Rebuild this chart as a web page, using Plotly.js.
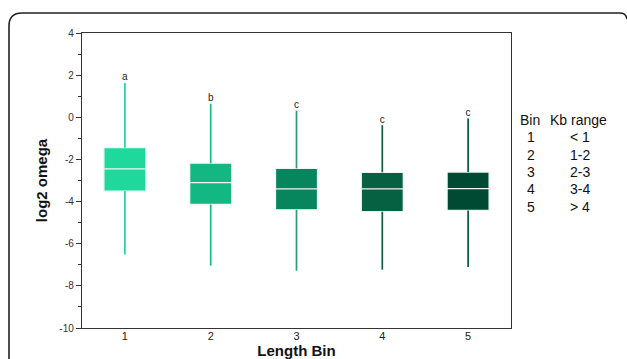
<!DOCTYPE html>
<html>
<head>
<meta charset="utf-8">
<script src="https://cdn.plot.ly/plotly-3.0.1.min.js"></script>
<style>html,body{margin:0;padding:0;background:#fff;}#chart{width:627px;height:359px;}</style>
</head>
<body>
<div id="chart"></div>
<script>
// ---- data ----
var bins = [1, 2, 3, 4, 5];
var upperFence = [1.63, 0.64, 0.31, -0.37, -0.06];
var q3Values = [-1.44, -2.18, -2.42, -2.61, -2.60];
var medians = [-2.45, -3.10, -3.40, -3.40, -3.39];
var q1Values = [-3.50, -4.14, -4.39, -4.48, -4.42];
var lowerFence = [-6.51, -7.04, -7.28, -7.23, -7.10];
var groupLetters = ['a', 'b', 'c', 'c', 'c'];
var binColors = ['#1fd89c', '#13b781', '#07865d', '#056142', '#004a33'];
var whiskerColors = ['#1fd89c', '#14bd85', '#2e9c73', '#066444', '#005c3c'];
var yTickVals = [-10, -8, -6, -4, -2, 0, 2, 4];
var yTickText = ['-10', '-8', '-6', '-4', '-2', '0', '2', '4'];
var yMinorVals = [-9, -7, -5, -3, -1, 1, 3];
var xTickVals = [1, 2, 3, 4, 5];
var xTickText = ['1', '2', '3', '4', '5'];
var tableHeader = ['Bin', 'Kb range'];
var tableBins = ['1', '2', '3', '4', '5'];
var tableRanges = ['< 1', '1-2', '2-3', '3-4', '> 4'];

// ---- layout geometry ----
var W = 627, H = 359;
var M = {l: 82, r: 116, t: 33, b: 31};
var PW = W - M.l - M.r, PH = H - M.t - M.b;
function px(x) { return (x - M.l) / PW; }
function py(y) { return (H - M.b - y) / PH; }

var traces = [];
bins.forEach(function (b, i) {
  traces.push({
    type: 'box',
    x: [b],
    q1: [q1Values[i]],
    median: [medians[i]],
    q3: [q3Values[i]],
    lowerfence: [lowerFence[i]],
    upperfence: [upperFence[i]],
    width: 0.49,
    whiskerwidth: 0,
    fillcolor: binColors[i],
    line: {color: 'rgba(236,248,242,1)', width: 1.3},
    boxpoints: false,
    showlegend: false,
    hoverinfo: 'skip'
  });
  traces.push({
    type: 'scatter',
    mode: 'lines',
    x: [b, b, null, b, b],
    y: [upperFence[i], q3Values[i], null, q1Values[i], lowerFence[i]],
    line: {color: whiskerColors[i], width: 1.7},
    showlegend: false,
    hoverinfo: 'skip'
  });
});
traces.push({
  type: 'scatter',
  mode: 'text',
  x: bins,
  y: upperFence,
  text: groupLetters,
  textposition: 'top center',
  textfont: {family: 'Liberation Sans, Arial, sans-serif', size: 10, color: '#222'},
  showlegend: false,
  hoverinfo: 'skip',
  cliponaxis: false
});

var annotations = [];
var textFont = {family: 'Liberation Sans, Arial, sans-serif', size: 14, color: '#111'};
annotations.push({xref: 'paper', yref: 'paper', x: px(518), y: py(119.5), xanchor: 'left', yanchor: 'middle',
  text: tableHeader[0], showarrow: false, font: textFont});
annotations.push({xref: 'paper', yref: 'paper', x: px(548), y: py(119.5), xanchor: 'left', yanchor: 'middle',
  text: tableHeader[1], showarrow: false, font: textFont});
tableBins.forEach(function (t, i) {
  var yy = 137.2 + 17.4 * i;
  annotations.push({xref: 'paper', yref: 'paper', x: px(531), y: py(yy), xanchor: 'center', yanchor: 'middle',
    text: t, showarrow: false, font: textFont});
  annotations.push({xref: 'paper', yref: 'paper', x: px(568), y: py(yy), xanchor: 'left', yanchor: 'middle',
    text: tableRanges[i], showarrow: false, font: textFont});
});

var framePath = 'M ' + px(9) + ',' + py(375) +
  ' L ' + px(9) + ',' + py(26) +
  ' Q ' + px(9) + ',' + py(13) + ' ' + px(22) + ',' + py(13) +
  ' L ' + px(620) + ',' + py(13) +
  ' Q ' + px(626) + ',' + py(13) + ' ' + px(627) + ',' + py(19);

var layout = {
  width: W, height: H,
  margin: M,
  paper_bgcolor: '#fff',
  plot_bgcolor: '#fff',
  boxmode: 'overlay',
  showlegend: false,
  font: {family: 'Liberation Sans, Arial, sans-serif', color: '#222'},
  xaxis: {
    range: [0.5, 5.5],
    tickmode: 'array', tickvals: xTickVals, ticktext: xTickText,
    ticks: '', showgrid: false, zeroline: false,
    showline: true, mirror: true, linecolor: '#333', linewidth: 1.2,
    tickfont: {size: 11, color: '#222'},
    ticklabelstandoff: -2,
    title: {text: 'Length Bin', font: {size: 15, color: '#111', family: 'Liberation Sans, Arial, sans-serif', weight: 'bold'}, standoff: 1}
  },
  yaxis: {
    range: [-10, 4],
    tickmode: 'array', tickvals: yTickVals, ticktext: yTickText,
    ticks: 'outside', ticklen: 5, tickcolor: '#333', tickwidth: 1,
    minor: {tickmode: 'array', tickvals: yMinorVals, ticks: 'outside', ticklen: 3, tickcolor: '#333', showgrid: false},
    showgrid: false, zeroline: false,
    showline: true, mirror: true, linecolor: '#333', linewidth: 1.2,
    tickfont: {size: 10, color: '#333'},
    title: {text: 'log2 omega', font: {size: 15, color: '#111', family: 'Liberation Sans, Arial, sans-serif', weight: 'bold'}, standoff: 8}
  },
  annotations: annotations,
  shapes: [{type: 'path', xref: 'paper', yref: 'paper', path: framePath, line: {color: '#222', width: 1.6}}]
};

Plotly.newPlot('chart', traces, layout, {displayModeBar: false, staticPlot: true});
</script>
</body>
</html>
